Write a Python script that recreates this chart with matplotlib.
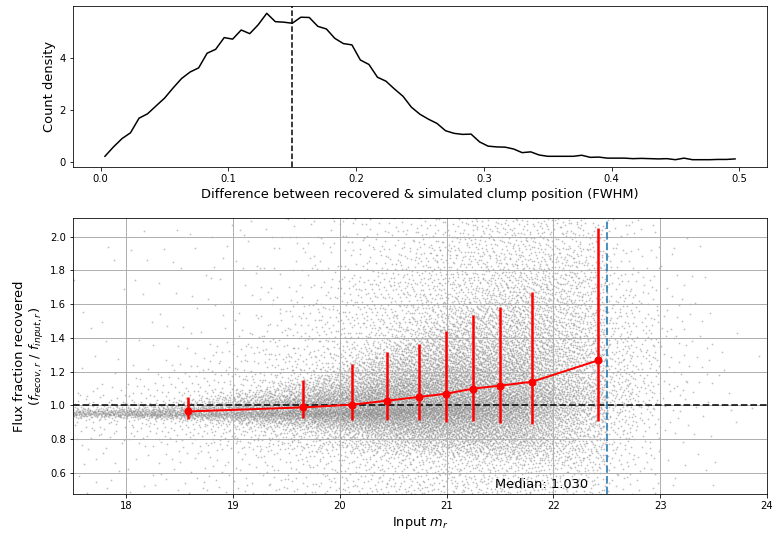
import matplotlib as mpl
mpl.use("Agg")
import matplotlib.pyplot as plt
import numpy as np


# ## Top panel: offset between recovered and simulated clump position
OFFSET_FWHM = [
    0.0033, 0.0100, 0.0167, 0.0233, 0.0300, 0.0367, 0.0433, 0.0500, 0.0567, 0.0633,
    0.0700, 0.0767, 0.0833, 0.0900, 0.0967, 0.1033, 0.1100, 0.1167, 0.1233, 0.1300,
    0.1367, 0.1433, 0.1500, 0.1567, 0.1633, 0.1700, 0.1767, 0.1833, 0.1900, 0.1967,
    0.2033, 0.2100, 0.2167, 0.2233, 0.2300, 0.2367, 0.2433, 0.2500, 0.2567, 0.2633,
    0.2700, 0.2767, 0.2833, 0.2900, 0.2967, 0.3033, 0.3100, 0.3167, 0.3233, 0.3300,
    0.3367, 0.3433, 0.3500, 0.3567, 0.3633, 0.3700, 0.3767, 0.3833, 0.3900, 0.3967,
    0.4033, 0.4100, 0.4167, 0.4233, 0.4300, 0.4367, 0.4433, 0.4500, 0.4567, 0.4633,
    0.4700, 0.4767, 0.4833, 0.4900, 0.4967,
]
COUNT_DENSITY = [
    0.22, 0.58, 0.90, 1.12, 1.68, 1.85, 2.15, 2.45, 2.84, 3.20,
    3.45, 3.61, 4.17, 4.32, 4.77, 4.71, 5.06, 4.92, 5.26, 5.70,
    5.38, 5.36, 5.32, 5.55, 5.54, 5.20, 5.10, 4.74, 4.54, 4.49,
    3.91, 3.74, 3.25, 3.10, 2.80, 2.52, 2.10, 1.83, 1.64, 1.48,
    1.20, 1.10, 1.06, 1.07, 0.77, 0.61, 0.58, 0.57, 0.50, 0.36,
    0.39, 0.27, 0.22, 0.22, 0.22, 0.22, 0.26, 0.18, 0.19, 0.15,
    0.15, 0.15, 0.13, 0.14, 0.13, 0.12, 0.13, 0.09, 0.15, 0.09,
    0.09, 0.09, 0.10, 0.10, 0.12,
]
OFFSET_CUT = 0.15

# ## Bottom panel: binned flux fraction (median with percentile range)
BIN_MAG = [18.58, 19.65, 20.11, 20.445, 20.74, 20.995, 21.245, 21.50, 21.80, 22.42]
BIN_MEDIAN = [0.964, 0.988, 1.004, 1.028, 1.050, 1.069, 1.099, 1.117, 1.140, 1.267]
BIN_LOW = [0.920, 0.925, 0.915, 0.915, 0.915, 0.900, 0.905, 0.896, 0.890, 0.905]
BIN_HIGH = [1.050, 1.152, 1.245, 1.316, 1.363, 1.442, 1.537, 1.580, 1.670, 2.050]
MAG_LIMIT = 22.5
MEDIAN_TEXT = "Median: 1.030"

# Scatter cloud: number of points per 0.25 mag
# slice, and flux-fraction quantiles at the centre of each 0.5 mag slice.
CLOUD_MAG_LO = [
    17.50, 17.75, 18.00, 18.25, 18.50, 18.75, 19.00, 19.25, 19.50, 19.75,
    20.00, 20.25, 20.50, 20.75, 21.00, 21.25, 21.50, 21.75, 22.00, 22.25,
    22.50, 22.75, 23.00, 23.25, 23.50, 23.75,
]
CLOUD_COUNT = [
    140, 160, 190, 230, 280, 350, 450, 570, 720, 900,
    1100, 1300, 1500, 1650, 1700, 1700, 1650, 1450, 1050, 820,
    330, 170, 60, 30, 8, 2,
]
CLOUD_PROBS = [0.0, 0.05, 0.16, 0.50, 0.84, 0.95, 1.0]
CLOUD_ROW_MAG = [17.75, 18.25, 18.75, 19.25, 19.75, 20.25, 20.75,
                 21.25, 21.75, 22.25, 22.75, 23.25, 23.75]
CLOUD_QUANTILES = [
    [0.45, 0.80, 0.930, 0.955, 0.985, 1.10, 2.00],
    [0.45, 0.78, 0.925, 0.955, 0.995, 1.18, 2.10],
    [0.45, 0.76, 0.915, 0.962, 1.040, 1.30, 2.20],
    [0.45, 0.75, 0.900, 0.975, 1.090, 1.45, 2.30],
    [0.45, 0.74, 0.890, 0.990, 1.150, 1.60, 2.40],
    [0.45, 0.73, 0.875, 1.010, 1.260, 1.75, 2.50],
    [0.45, 0.72, 0.865, 1.050, 1.390, 1.90, 2.60],
    [0.45, 0.71, 0.860, 1.090, 1.530, 2.05, 2.80],
    [0.45, 0.69, 0.855, 1.130, 1.640, 2.15, 3.00],
    [0.45, 0.65, 0.860, 1.220, 1.900, 2.50, 3.20],
    [0.45, 0.62, 0.850, 1.200, 1.700, 2.20, 2.60],
    [0.45, 0.62, 0.900, 1.300, 1.700, 2.00, 2.30],
    [0.50, 0.70, 0.900, 1.100, 1.300, 1.50, 1.60],
]


def van_der_corput(i, base):
    # radical inverse of the integers i in the given base
    out = np.zeros(len(i))
    denom = 1.0
    i = i.copy()
    while np.any(i > 0):
        denom *= base
        out += (i % base) / denom
        i //= base
    return out


def monotone_quantile(v, probs, q):
    # shape-preserving cubic (Fritsch-Carlson) through the quantile knots,
    # one row of knots per point: q has shape (n_points, n_knots)
    p = np.asarray(probs)
    h = np.diff(p)
    delta = np.diff(q, axis=1) / h
    d = np.empty_like(q)
    d[:, 0], d[:, -1] = delta[:, 0], delta[:, -1]
    w1 = 2 * h[1:] + h[:-1]
    w2 = h[1:] + 2 * h[:-1]
    d[:, 1:-1] = (w1 + w2) / (w1 / delta[:, :-1] + w2 / delta[:, 1:])
    k = np.clip(np.searchsorted(p, v, side="right") - 1, 0, len(h) - 1)
    rows = np.arange(len(v))
    t = (v - p[k]) / h[k]
    h00, h10 = 2 * t**3 - 3 * t**2 + 1, t**3 - 2 * t**2 + t
    h01, h11 = -2 * t**3 + 3 * t**2, t**3 - t**2
    return (h00 * q[rows, k] + h10 * h[k] * d[rows, k]
            + h01 * q[rows, k + 1] + h11 * h[k] * d[rows, k + 1])


def build_cloud():
    # place each slice's points with a Halton (2, 3) sequence so that the cloud
    # follows the counts and quantiles above without random numbers
    rows = np.array(CLOUD_QUANTILES)
    xs, vs = [], []
    start = 1
    for lo, n in zip(CLOUD_MAG_LO, CLOUD_COUNT):
        i = np.arange(start, start + n)
        start += n
        xs.append(lo + 0.25 * van_der_corput(i, 2))
        vs.append(van_der_corput(i, 3))
    x, v = np.concatenate(xs), np.concatenate(vs)
    q = np.column_stack([np.interp(x, CLOUD_ROW_MAG, rows[:, j]) for j in range(rows.shape[1])])
    return x, monotone_quantile(v, CLOUD_PROBS, q)


def main():
    fig = plt.figure(figsize=(780 / 72, 542 / 72), dpi=72)
    ax_top = fig.add_axes([73 / 780, 375 / 542, 694 / 780, 161 / 542])
    ax = fig.add_axes([73 / 780, 48 / 542, 694 / 780, 276 / 542])

    ax_top.plot(OFFSET_FWHM, COUNT_DENSITY, color="k", lw=1.5)
    ax_top.axvline(OFFSET_CUT, color="k", ls="--", lw=1.5)
    ax_top.set_xlim(-0.0217, 0.5217)
    ax_top.set_ylim(-0.19, 5.98)
    ax_top.set_yticks([0, 2, 4])
    ax_top.set_xlabel("Difference between recovered & simulated clump position (FWHM)", fontsize=13)
    ax_top.set_ylabel("Count density", fontsize=13)

    cx, cy = build_cloud()
    ax.scatter(cx, cy, s=3, color="gray", alpha=0.5, linewidths=0)
    ax.grid(True, color="#b0b0b0", lw=1)
    ax.axhline(1.0, color="k", ls="--", lw=1.8, alpha=0.85, zorder=3)
    yerr = [np.subtract(BIN_MEDIAN, BIN_LOW), np.subtract(BIN_HIGH, BIN_MEDIAN)]
    ax.errorbar(BIN_MAG, BIN_MEDIAN, yerr=yerr, fmt="o-", color="red", lw=2,
                elinewidth=2.5, ms=7, capsize=0, zorder=4)
    ax.axvline(MAG_LIMIT, color="C0", ls="--", lw=2, alpha=0.8, zorder=5)
    ax.text(21.45, 0.51, MEDIAN_TEXT, fontsize=13, ha="left", va="baseline")
    ax.set_xlim(17.5, 24)
    ax.set_ylim(0.475, 2.11)
    ax.set_yticks(np.arange(0.6, 2.01, 0.2))
    ax.set_xlabel("Input $m_r$", fontsize=13)
    ax.set_ylabel("Flux fraction recovered\n($f_{recov,r}$ / $f_{input,r}$)", fontsize=13)

    fig.savefig("out.png", dpi=72)
    plt.close(fig)


if __name__ == "__main__":
    main()
